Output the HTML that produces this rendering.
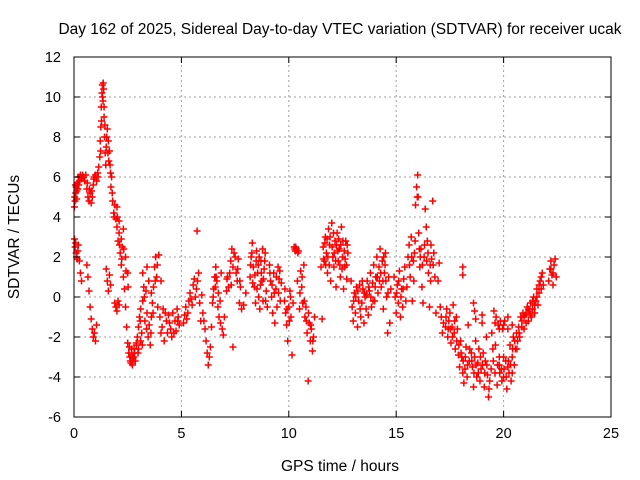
<!DOCTYPE html>
<html><head><meta charset="utf-8"><style>
body{margin:0;background:#fff;}
svg{display:block;font-family:"Liberation Sans",sans-serif;}
</style></head><body>
<svg id="chart" width="640" height="480">
<rect width="640" height="480" fill="#fff"/>
<text x="340" y="34" font-size="15.5" text-anchor="middle">Day 162 of 2025, Sidereal Day-to-day VTEC variation (SDTVAR) for receiver ucak</text>
<text x="340" y="471" font-size="15.5" text-anchor="middle">GPS time / hours</text>
<text transform="translate(19,237) rotate(-90)" font-size="15.5" text-anchor="middle">SDTVAR / TECUs</text>
<g id="grid"></g><g id="marks"></g><g id="frame"></g>
</svg>
<script>
const xTicks = [0,5,10,15,20,25];
const yTicks = [-6,-4,-2,0,2,4,6,8,10,12];
const earlyUpper = [[0.02,4.5],[0.05,4.8],[0.08,5.2],[0.1,5.5],[0.12,4.9],[0.15,5.7],[0.18,5.4],[0.2,6.0],[0.25,5.8],[0.3,6.1],[0.35,5.9],[0.45,6.0],[0.55,6.1],[0.6,5.4],[0.65,5.0],[0.7,4.8],[0.75,5.2],[0.8,4.7],[0.85,5.0],[0.9,5.6],[0.95,6.0],[1.0,6.1],[1.05,5.8],[1.1,6.2],[1.15,6.5],[1.2,7.0],[1.22,7.8],[1.25,8.5],[1.27,9.5],[1.3,10.2],[1.32,10.6],[1.35,9.8],[1.38,10.4],[1.4,9.0],[1.42,8.0],[1.45,7.2],[1.48,6.6],[1.5,7.5],[1.55,8.4],[1.6,7.8],[1.62,6.8],[1.65,7.3],[1.7,6.2],[1.72,5.5],[1.75,6.0],[1.8,4.8],[1.85,4.2],[1.9,4.6],[1.95,3.9],[2.0,3.5],[2.05,2.8],[2.1,3.2],[2.15,2.2],[2.2,1.6],[2.25,2.5],[2.3,1.0],[2.35,0.4],[2.4,-0.5],[2.45,-1.5],[2.5,-2.3],[2.55,-2.8],[2.6,-3.0],[2.65,-3.3],[2.7,-2.9],[2.75,-3.1],[2.8,-2.6],[2.85,-3.2],[2.9,-2.4],[2.0,4.5],[2.1,3.8],[2.2,2.9],[2.3,3.4],[2.4,2.0],[2.5,1.2]];
const earlyLower = [[0.02,2.9],[0.05,2.5],[0.1,2.2],[0.15,1.9],[0.2,2.6],[0.25,1.8],[0.3,1.2],[0.35,0.8],[0.6,1.6],[0.65,1.0],[0.7,0.3],[0.75,-0.5],[0.8,-1.1],[0.85,-1.6],[0.9,-2.0],[0.95,-1.8],[1.0,-2.2],[1.05,-1.4],[1.5,1.4],[1.55,0.8],[1.6,0.3],[1.65,1.1],[1.7,0.6],[1.9,-0.3],[1.95,-0.5],[2.0,-0.7],[2.05,-0.2],[2.1,-0.4],[2.95,-2.0],[3.0,-1.5],[3.05,-1.0],[3.1,-0.6],[3.15,-1.8],[3.2,-0.2],[3.25,0.5],[3.3,-1.2],[3.35,0.3],[3.4,-0.8],[3.45,-2.0],[3.5,-1.4],[3.55,-2.4],[3.6,-1.0],[3.65,-0.3],[3.7,0.5],[3.75,1.5],[3.8,2.0],[3.85,1.0],[3.9,-0.5],[2.9,-2.3],[3.0,-2.6],[3.1,-2.2],[3.2,1.2],[3.4,1.5],[3.6,0.2],[3.95,2.1],[4.05,0.8]];
const midMorning = [[4.0,-1.0],[4.1,-1.5],[4.15,-0.6],[4.2,-2.2],[4.3,-1.2],[4.35,-1.8],[4.4,-0.9],[4.5,-1.6],[4.55,-2.0],[4.6,-0.8],[4.7,-1.2],[4.75,-1.7],[4.8,-0.6],[4.85,-1.0],[4.9,-1.4],[5.1,-1.3],[5.15,-0.9],[5.2,-0.5],[5.3,-0.8],[5.35,-0.2],[5.4,0.2],[5.5,-0.4],[5.55,0.6],[5.6,0.9],[5.7,0.4],[5.73,3.3],[5.8,1.2],[5.85,-0.3],[5.9,-1.2],[5.95,0.1],[6.0,-0.8],[6.1,-1.6],[6.15,-2.2],[6.2,-2.8],[6.25,-3.4],[6.3,-3.0],[6.35,-2.5],[6.4,-1.5],[6.45,-0.3],[6.5,0.4],[6.55,1.0],[6.6,1.5],[6.65,0.8],[6.7,-0.5],[6.75,-1.0],[6.8,-0.2],[6.85,1.2],[6.9,-1.6],[6.95,-1.9],[7.0,-1.0],[7.1,0.3],[7.15,1.0],[7.2,0.5],[7.3,1.8],[7.35,2.4],[7.4,1.5],[7.5,2.0],[7.4,-2.5],[7.6,0.8],[7.65,1.9],[7.7,-0.3],[7.75,0.5],[7.8,-0.6],[7.9,-0.4],[8.0,0.2]];
const midDay = [[8.2,1.0],[8.25,2.0],[8.3,2.7],[8.35,1.5],[8.4,0.5],[8.45,-0.3],[8.5,2.3],[8.55,1.2],[8.6,0.0],[8.65,-0.6],[8.7,1.8],[8.75,0.8],[8.8,-0.2],[8.85,1.4],[8.9,2.2],[8.95,0.3],[9.0,-0.5],[9.1,1.6],[9.15,0.8],[9.2,0.0],[9.25,-0.8],[9.3,1.2],[9.35,-1.3],[9.4,0.4],[9.45,-0.5],[9.5,1.5],[9.55,0.9],[9.6,-0.2],[9.65,0.7],[9.8,-0.2],[9.85,-0.8],[9.9,-1.4],[9.95,-2.2],[10.0,-0.5],[10.05,0.3],[10.1,-1.0],[10.15,-2.9],[10.2,-0.3],[10.25,2.5],[10.3,2.3],[10.35,2.4],[10.4,0.8],[10.45,2.3],[10.5,-0.6],[10.55,1.3],[10.6,0.5],[10.65,-0.3],[10.7,1.6],[10.75,-1.0],[10.8,-0.5],[10.85,-1.8],[10.9,-4.2],[10.95,-1.3],[11.0,-2.2],[11.05,-1.6],[11.1,-2.7],[11.15,-2.0],[11.2,-1.0]];
const afternoon = [[11.5,1.5],[11.55,-1.1],[11.6,2.5],[11.65,1.8],[11.7,3.0],[11.75,2.2],[11.8,1.2],[11.85,3.4],[11.9,2.6],[11.95,0.8],[12.0,3.7],[12.05,2.0],[12.1,1.5],[12.15,2.8],[12.2,0.5],[12.25,3.2],[12.3,1.8],[12.35,2.4],[12.4,1.0],[12.45,3.5],[12.5,2.0],[12.55,0.4],[12.6,1.5],[12.65,2.8],[12.7,0.9],[12.75,2.2],[12.9,0.8],[12.95,-0.5],[13.0,-1.2],[13.05,0.2],[13.1,-0.8],[13.15,0.5],[13.2,-1.5],[13.25,-0.2],[13.3,0.6],[13.35,-1.0],[13.4,-0.3],[13.45,0.4],[13.5,-1.3],[13.55,0.0],[13.6,-0.6],[13.65,0.8],[13.7,-0.9],[13.75,0.3],[13.8,1.2],[13.85,-0.5],[13.9,0.7],[13.95,1.6],[14.0,-0.2],[14.05,1.0],[14.1,2.0],[14.15,0.2],[14.2,1.5],[14.25,2.4],[14.3,0.5],[14.35,1.8],[14.4,-0.6],[14.45,1.2],[14.5,2.2],[14.55,0.0],[14.6,-1.8],[14.65,1.0],[14.7,-1.3],[14.75,0.4],[14.9,1.0],[14.95,0.0],[15.0,-0.8],[15.05,0.6],[15.1,-0.3],[15.15,1.3],[15.2,-1.0],[15.25,0.4],[15.3,-0.5],[15.35,0.9],[15.4,1.5],[15.45,-0.2],[15.5,0.5],[15.55,2.0]];
const evening = [[15.6,2.6],[15.65,1.0],[15.7,3.0],[15.75,-0.2],[15.8,1.8],[15.85,2.2],[15.9,4.6],[15.95,5.5],[16.0,6.1],[16.02,5.0],[16.05,3.2],[16.1,1.5],[16.15,2.4],[16.2,0.5],[16.25,-0.3],[16.3,2.0],[16.35,4.4],[16.4,3.5],[16.45,2.8],[16.5,1.2],[16.55,-0.5],[16.6,0.8],[16.65,1.9],[16.7,4.8],[16.75,2.2],[16.8,1.0],[16.85,-0.8],[16.95,0.8],[17.0,1.7],[17.05,-0.5],[17.1,-1.0],[17.15,-1.8],[17.2,-1.3],[17.3,-1.5],[17.35,-0.6],[17.4,-2.0],[17.45,-1.2],[17.5,-0.8],[17.55,-2.3],[17.6,-1.5],[17.65,-0.4],[17.7,-1.8],[17.75,-2.6],[17.8,-1.0],[17.85,-1.6],[17.9,-2.9],[17.95,-3.5],[18.0,-2.2],[18.05,-3.0],[18.1,-3.8],[18.15,-4.3],[18.2,-3.6],[18.25,-2.5],[18.3,-4.0],[18.35,-1.4],[18.4,-3.2],[18.1,1.5],[18.1,1.1],[18.6,-0.3],[18.65,-0.7],[18.7,-1.1],[19.0,-0.9]];
const night = [[18.5,-2.8],[18.55,-3.5],[18.6,-4.5],[18.65,-3.0],[18.7,-2.2],[18.75,-4.0],[18.8,-3.3],[18.85,-2.6],[18.9,-4.2],[18.95,-3.6],[19.0,-1.3],[19.05,-2.8],[19.1,-4.5],[19.15,-3.2],[19.2,-2.0],[19.25,-3.9],[19.3,-5.0],[19.35,-4.2],[19.45,-1.8],[19.5,-2.6],[19.55,-0.7],[19.6,-3.8],[19.65,-1.0],[19.7,-4.4],[19.75,-1.4],[19.8,-3.0],[19.85,-1.2],[19.9,-3.6],[19.95,-1.6],[20.0,-4.0],[20.05,-1.2],[20.1,-3.2],[20.15,-4.6],[20.2,-1.6],[20.25,-3.8],[20.3,-2.4],[20.35,-4.2],[20.4,-3.0],[20.45,-2.0],[20.5,-3.4],[20.55,-2.6],[20.6,-1.8],[20.65,-2.2],[20.7,-1.5],[20.75,-2.0],[20.8,-1.0],[20.85,-1.5],[20.9,-0.8],[20.95,-1.6],[21.0,-0.9],[21.05,-1.3],[21.1,-0.5],[21.15,-1.2],[21.2,-0.7],[21.25,-0.3],[21.3,-1.0],[21.35,-0.6],[21.4,0.0],[21.45,-0.8],[21.5,-0.2],[21.55,0.4],[21.6,-0.4],[21.65,0.2],[21.7,0.8],[21.75,0.4],[21.8,1.2],[21.85,0.6],[22.1,0.8],[22.15,1.4],[22.2,1.8],[22.25,1.1],[22.3,0.6],[22.35,1.6],[22.4,1.9],[22.45,1.0],[19.8,-3.4],[20.0,-3.0],[20.2,-3.5],[20.4,-3.8]];
const denseA = [[0.03,5.0],[0.07,5.6],[0.13,5.3],[0.22,5.6],[0.28,6.0],[0.4,6.1],[0.5,5.8],[0.62,5.7],[0.72,5.4],[0.82,5.3],[0.92,5.9],[1.12,6.0],[1.24,7.3],[1.28,8.8],[1.33,10.0],[1.36,10.7],[1.4,9.5],[1.44,8.6],[1.52,8.0],[1.58,7.2],[1.68,6.6],[1.78,5.2],[1.88,4.0],[2.02,4.0],[2.12,2.6],[2.22,1.9],[2.32,2.4],[2.42,1.3],[2.52,0.5],[2.58,-2.5],[2.62,-3.2],[2.68,-2.6],[2.72,-3.4],[2.78,-3.0],[2.82,-2.8],[0.08,2.7],[0.18,2.3],[0.12,2.0],[2.98,-2.8],[3.08,-1.2],[3.18,-2.4],[3.28,0.0],[3.38,-1.6],[3.48,0.8],[3.58,-1.8],[3.68,-0.8],[3.78,0.8],[3.88,1.6]];
const denseB = [[4.05,-1.8],[4.25,-0.8],[4.45,-1.3],[4.65,-1.8],[4.82,-1.2],[5.25,-1.1],[5.45,-0.1],[5.65,0.0],[5.75,0.8],[6.05,-1.2],[6.48,0.0],[6.58,0.5],[6.62,1.0],[6.72,0.2],[6.82,-1.3],[7.12,0.9],[7.25,1.2],[7.32,0.6],[7.45,2.2],[7.55,1.2],[7.62,1.4],[7.72,0.8],[8.22,1.6],[8.28,2.2],[8.32,0.7],[8.42,1.1],[8.48,1.8],[8.52,0.4],[8.58,1.6],[8.62,2.0],[8.68,0.6],[8.72,1.2],[8.78,2.4],[8.82,0.9],[8.88,1.8],[8.92,-0.2],[9.12,1.2],[9.22,0.6],[9.32,0.2],[9.42,1.0],[9.52,0.2],[9.58,1.3],[9.82,0.4],[9.92,-0.6],[10.02,-1.2],[10.08,0.0],[10.28,2.4],[10.32,2.5],[10.42,2.2],[10.52,0.2],[10.62,1.0],[10.72,-0.2],[10.82,-1.2],[10.92,-0.8],[11.02,-1.4],[11.12,-2.2]];
const denseC = [[11.62,1.9],[11.68,2.7],[11.72,1.6],[11.78,2.9],[11.82,2.0],[11.88,1.6],[11.92,3.0],[12.02,2.5],[12.08,3.2],[12.12,2.2],[12.18,1.8],[12.22,2.6],[12.28,2.3],[12.32,2.9],[12.38,1.6],[12.42,2.6],[12.48,1.4],[12.52,2.8],[12.58,2.3],[12.62,1.9],[12.68,1.6],[12.72,2.6],[13.02,-0.2],[13.12,0.0],[13.22,0.3],[13.32,-0.6],[13.42,0.8],[13.52,0.2],[13.62,0.1],[13.72,0.5],[13.82,0.0],[13.92,-0.2],[14.02,0.5],[14.12,1.0],[14.22,0.8],[14.28,1.2],[14.38,0.8],[14.42,2.0],[14.48,1.6],[14.52,0.8],[14.62,0.2],[15.02,0.2],[15.12,0.8],[15.22,0.0],[15.32,0.4],[15.62,1.6],[15.72,2.0],[15.82,0.8],[15.88,2.8],[15.98,5.0],[16.08,2.4],[16.12,2.0],[16.22,1.6],[16.32,2.6],[16.42,1.8],[16.48,2.2],[16.58,1.6],[16.62,2.6],[16.72,1.6]];
const denseD = [[17.32,-1.0],[17.42,-1.6],[17.52,-1.6],[17.62,-2.0],[17.72,-1.2],[17.82,-2.2],[17.92,-2.4],[18.02,-2.8],[18.12,-3.2],[18.22,-3.0],[18.32,-3.4],[18.42,-2.6],[18.52,-3.2],[18.62,-3.8],[18.72,-3.4],[18.82,-3.8],[18.92,-3.0],[19.02,-3.4],[19.12,-3.8],[19.22,-3.4],[19.32,-4.6],[19.42,-3.6],[19.52,-3.2],[19.62,-2.4],[19.72,-3.4],[19.82,-3.8],[19.92,-4.2],[20.02,-3.6],[20.12,-4.0],[20.22,-3.2],[20.32,-3.4],[20.42,-2.6],[20.52,-2.2],[20.62,-2.6],[20.72,-1.8],[19.6,-1.3],[19.8,-1.6],[20.0,-1.4],[20.2,-1.0],[20.4,-1.4],[20.85,-1.2],[20.95,-1.0],[21.05,-0.8],[21.15,-0.6],[21.25,-0.9],[21.35,-0.2],[21.45,-0.4],[21.55,0.0],[21.65,0.6],[21.75,1.0],[22.2,1.4],[22.3,1.2]];
const segments = [earlyUpper, earlyLower, midMorning, midDay, afternoon, evening, night, denseA, denseB, denseC, denseD];

const X0=74, X1=611, Y0=417, Y1=57;
function xs(t){return X0+(t-0)/(25-0)*(X1-X0);}
function ys(v){return Y0-(v-(-6))/(12-(-6))*(Y0-Y1);}
const NS='http://www.w3.org/2000/svg';
function mk(tag,attrs,parent){const e=document.createElementNS(NS,tag);for(const k in attrs)e.setAttribute(k,attrs[k]);parent.appendChild(e);return e;}
const grid=document.getElementById('grid'), marks=document.getElementById('marks'), frame=document.getElementById('frame');

xTicks.forEach(t=>{
  const x=xs(t);
  if(t>0&&t<25){const g=mk('line',{x1:x,y1:Y0,x2:x,y2:Y1,stroke:'#a0a0a0','stroke-dasharray':'2,3'},grid);
  
  }
  mk('line',{x1:x,y1:Y0,x2:x,y2:Y0-6,stroke:'#000'},frame);
  mk('line',{x1:x,y1:Y1,x2:x,y2:Y1+6,stroke:'#000'},frame);
  const lb=mk('text',{x:x,y:Y0+21,'font-size':'14.5','text-anchor':'middle'},frame);
  lb.textContent=t;
  
  
});
yTicks.forEach(v=>{
  const y=ys(v);
  if(v>-6&&v<12){const g=mk('line',{x1:X0,y1:y,x2:X1,y2:y,stroke:'#a0a0a0','stroke-dasharray':'2,3'},grid);
  
  }
  mk('line',{x1:X0,y1:y,x2:X0+6,y2:y,stroke:'#000'},frame);
  mk('line',{x1:X1,y1:y,x2:X1-6,y2:y,stroke:'#000'},frame);
  const lb=mk('text',{x:X0-13,y:y+5,'font-size':'14.5','text-anchor':'end'},frame);
  lb.textContent=v;
  
  
});
const fr=mk('rect',{x:X0,y:Y1,width:X1-X0,height:Y0-Y1,fill:'none',stroke:'#000'},frame);



segments.forEach(seg=>seg.forEach(p=>{
  const x=xs(p[0]), y=ys(p[1]);
  const m=mk('path',{d:`M${x-3.5},${y}H${x+3.5}M${x},${y-3.5}V${y+3.5}`,stroke:'#f00','stroke-width':'1.5',fill:'none'},marks);
  
  
}));
</script>
</body></html>
